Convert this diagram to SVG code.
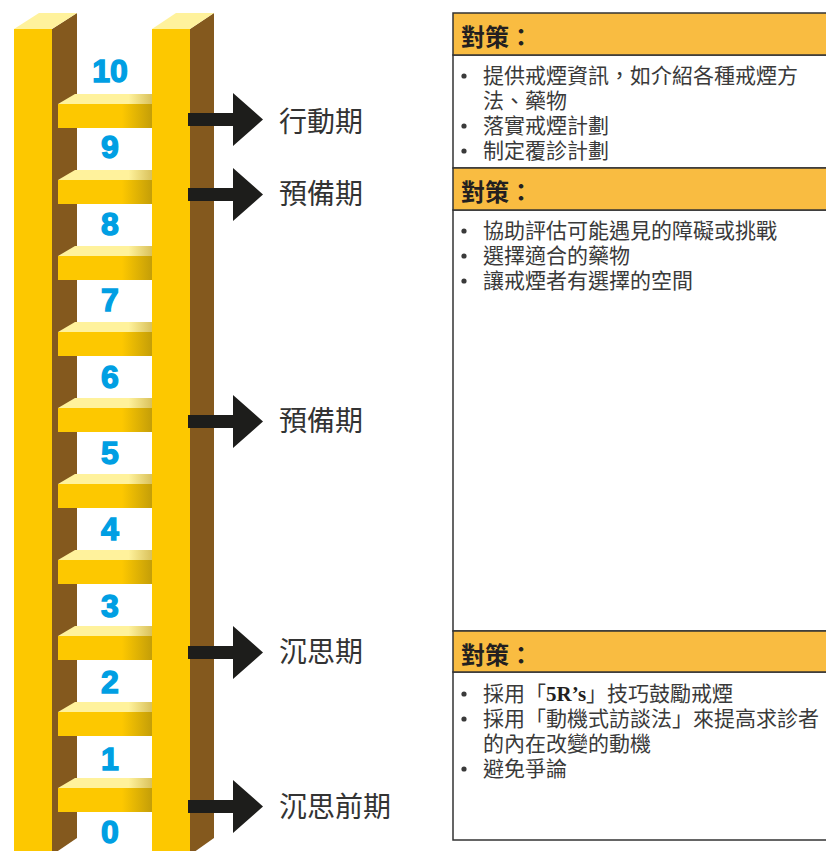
<svg xmlns="http://www.w3.org/2000/svg" width="826" height="851" viewBox="0 0 826 851">
  <style>
    .rail-front { fill: #fdc800; }
    .rail-side { fill: #84591e; }
    .rail-top { fill: #fff29c; }
    .rung-front { fill: url(#rungFront); }
    .rung-top { fill: url(#rungTop); }
    .num { font-family: "Liberation Sans", "DejaVu Sans", sans-serif; font-weight: bold; font-size: 32px; fill: #009fe3; stroke: #009fe3; stroke-width: 1.4; text-anchor: middle; }
    .arrow { fill: #1d1d1b; }
    .stage { font-family: "Noto Sans CJK TC", "Noto Sans CJK SC", sans-serif; font-size: 28px; fill: #333333; }
    .head { fill: #f9bc41; stroke: #333333; stroke-width: 1.5; }
    .body { fill: #ffffff; stroke: #333333; stroke-width: 1.5; }
    .head-text { font-family: "Noto Sans CJK TC", "Noto Sans CJK SC", sans-serif; font-weight: bold; font-size: 24px; fill: #231f20; }
    .item { font-family: "Noto Sans CJK TC", "Noto Sans CJK SC", sans-serif; font-size: 21px; fill: #3a3a3a; }
    .dot { fill: #3a3a3a; }
    .latin { font-family: "Liberation Serif", serif; font-weight: bold; fill: #231f20; }
  </style>
  <defs>
    <linearGradient id="rungFront" gradientUnits="userSpaceOnUse" x1="58" y1="0" x2="152" y2="0">
      <stop offset="0" stop-color="#fdc800"/>
      <stop offset="0.68" stop-color="#fdc800"/>
      <stop offset="1" stop-color="#c49e08"/>
    </linearGradient>
    <linearGradient id="rungTop" gradientUnits="userSpaceOnUse" x1="58" y1="0" x2="152" y2="0">
      <stop offset="0" stop-color="#fff29c"/>
      <stop offset="0.75" stop-color="#fff29c"/>
      <stop offset="1" stop-color="#d9c15c"/>
    </linearGradient>
    <path id="arrowShape" d="M188,-6.5 H233 V-26.5 L263,0 L233,26.5 V6.5 H188 Z"/>
    <g id="rung">
      <polygon class="rung-top" points="58,10 75,0 152,0 152,10"/>
      <rect class="rung-front" x="58" y="10" width="94" height="24"/>
    </g>
  </defs>

  <!-- left rail -->
  <g id="rail-left">
    <rect class="rail-front" x="14" y="29" width="38" height="830"/>
    <polygon class="rail-side" points="52,29 77,13 77,838 52,855"/>
    <polygon class="rail-top" points="14,29 52,29 77,13 39,13"/>
  </g>

  <!-- rungs -->
  <g id="rungs">
    <use href="#rung" y="94"/>
    <use href="#rung" y="170"/>
    <use href="#rung" y="246"/>
    <use href="#rung" y="322"/>
    <use href="#rung" y="398"/>
    <use href="#rung" y="474"/>
    <use href="#rung" y="550"/>
    <use href="#rung" y="626"/>
    <use href="#rung" y="702"/>
    <use href="#rung" y="778"/>
  </g>

  <!-- right rail -->
  <g id="rail-right">
    <rect class="rail-front" x="152" y="29" width="38" height="830"/>
    <polygon class="rail-side" points="190,29 214,13 214,838 190,855"/>
    <polygon class="rail-top" points="152,29 190,29 214,13 176,13"/>
  </g>

  <!-- step numbers -->
  <g id="numbers">
    <text class="num" x="110" y="82">10</text>
    <text class="num" x="110" y="158">9</text>
    <text class="num" x="110" y="235">8</text>
    <text class="num" x="110" y="311">7</text>
    <text class="num" x="110" y="388">6</text>
    <text class="num" x="110" y="464">5</text>
    <text class="num" x="110" y="540">4</text>
    <text class="num" x="110" y="617">3</text>
    <text class="num" x="110" y="693">2</text>
    <text class="num" x="110" y="770">1</text>
    <text class="num" x="110" y="843">0</text>
  </g>

  <!-- stage arrows -->
  <g id="connectors">
    <use class="arrow" href="#arrowShape" y="119.5"/>
    <use class="arrow" href="#arrowShape" y="194.5"/>
    <use class="arrow" href="#arrowShape" y="421.5"/>
    <use class="arrow" href="#arrowShape" y="652.5"/>
    <use class="arrow" href="#arrowShape" y="806.5"/>
  </g>

  <!-- stage labels -->
  <g id="stage-action"><text class="stage" x="279" y="132">行動期</text></g>
  <g id="stage-prep-1"><text class="stage" x="279" y="204">預備期</text></g>
  <g id="stage-prep-2"><text class="stage" x="279" y="431">預備期</text></g>
  <g id="stage-contemplation"><text class="stage" x="279" y="662">沉思期</text></g>
  <g id="stage-precontemplation"><text class="stage" x="279" y="817">沉思前期</text></g>

  <!-- strategy box: action -->
  <g id="box-action">
    <rect class="body" x="453" y="55" width="380" height="113"/>
    <rect class="head" x="453" y="13" width="380" height="42"/>
    <text class="head-text" x="461" y="46">對策：</text>
    <circle class="dot" cx="464" cy="76" r="2.6"/>
    <text class="item" x="483" y="83">提供戒煙資訊，如介紹各種戒煙方</text>
    <text class="item" x="483" y="108">法、藥物</text>
    <circle class="dot" cx="464" cy="126" r="2.6"/>
    <text class="item" x="483" y="133">落實戒煙計劃</text>
    <circle class="dot" cx="464" cy="151" r="2.6"/>
    <text class="item" x="483" y="158">制定覆診計劃</text>
  </g>

  <!-- strategy box: preparation -->
  <g id="box-preparation">
    <rect class="body" x="453" y="210" width="380" height="421"/>
    <rect class="head" x="453" y="168" width="380" height="42"/>
    <text class="head-text" x="461" y="201">對策：</text>
    <circle class="dot" cx="464" cy="231" r="2.6"/>
    <text class="item" x="483" y="238">協助評估可能遇見的障礙或挑戰</text>
    <circle class="dot" cx="464" cy="256" r="2.6"/>
    <text class="item" x="483" y="263">選擇適合的藥物</text>
    <circle class="dot" cx="464" cy="281" r="2.6"/>
    <text class="item" x="483" y="288">讓戒煙者有選擇的空間</text>
  </g>

  <!-- strategy box: contemplation -->
  <g id="box-contemplation">
    <rect class="body" x="453" y="672" width="380" height="168"/>
    <rect class="head" x="453" y="631" width="380" height="41"/>
    <text class="head-text" x="461" y="664">對策：</text>
    <circle class="dot" cx="464" cy="694" r="2.6"/>
    <text class="item" x="483" y="701">採用「<tspan class="latin" font-size="21">5R’s</tspan>」技巧鼓勵戒煙</text>
    <circle class="dot" cx="464" cy="719" r="2.6"/>
    <text class="item" x="483" y="726">採用「動機式訪談法」來提高求診者</text>
    <text class="item" x="483" y="751">的內在改變的動機</text>
    <circle class="dot" cx="464" cy="769" r="2.6"/>
    <text class="item" x="483" y="776">避免爭論</text>
  </g>
</svg>
